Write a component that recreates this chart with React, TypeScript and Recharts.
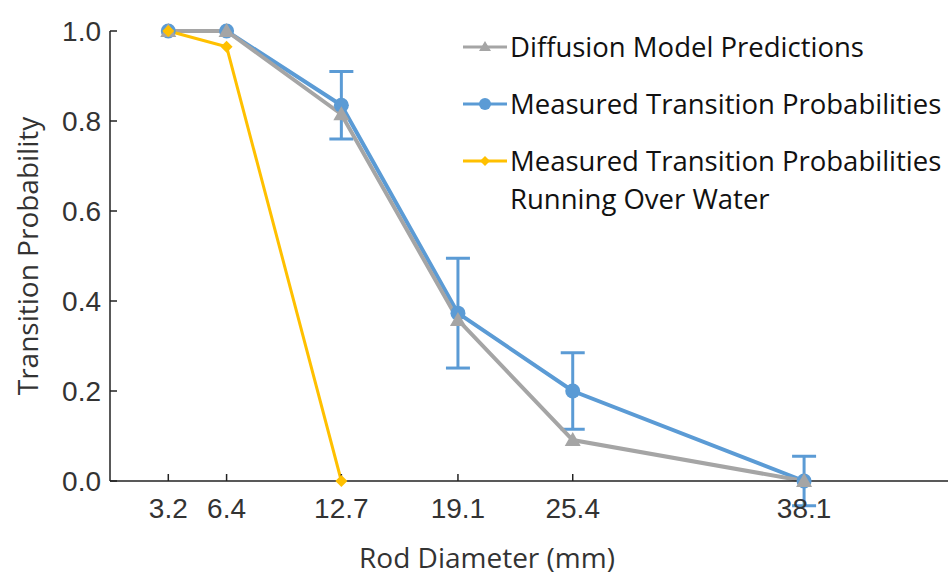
import React from 'react';
import { LineChart, Line, XAxis, YAxis, ErrorBar, Legend, Label } from 'recharts';

const diameters = [3.2, 6.4, 12.7, 19.1, 25.4, 38.1];
const diffusion = [1.0, 1.0, 0.815, 0.358, 0.091, 0.0];
const measured = [1.0, 1.0, 0.835, 0.373, 0.2, 0.0];
const measuredErr = [0, 0, 0.075, 0.122, 0.085, 0.055];
const overWater = [1.0, 0.965, 0.0];
const yTicks = [0, 0.2, 0.4, 0.6, 0.8, 1.0];

const GRAY = '#A5A5A5';
const BLUE = '#5B9BD5';
const GOLD = '#FFC000';

const data = diameters.map((d, i) => ({
  d,
  diffusion: diffusion[i],
  measured: measured[i],
  err: measuredErr[i],
  water: i < overWater.length ? overWater[i] : undefined,
}));

const Triangle = (p: any) => {
  const { cx, cy } = p;
  if (cx == null || cy == null) return null;
  return <path key={p.key} d={`M${cx},${cy - 8} L${cx + 8},${cy + 6} L${cx - 8},${cy + 6} Z`} fill={GRAY} />;
};
const Circle = (p: any) => {
  const { cx, cy } = p;
  if (cx == null || cy == null) return null;
  return <circle key={p.key} cx={cx} cy={cy} r={7.5} fill={BLUE} />;
};
const Diamond = (p: any) => {
  const { cx, cy } = p;
  if (cx == null || cy == null) return null;
  return <path key={p.key} d={`M${cx},${cy - 6} L${cx + 6},${cy} L${cx},${cy + 6} L${cx - 6},${cy} Z`} fill={GOLD} />;
};

const legendItems = [
  { color: GRAY, shape: 'tri', lines: ['Diffusion Model Predictions'] },
  { color: BLUE, shape: 'circ', lines: ['Measured Transition Probabilities'] },
  { color: GOLD, shape: 'dia', lines: ['Measured Transition Probabilities', 'Running Over Water'] },
];

const LegendBox = () => (
  <div style={{ fontFamily: '"Open Sans", sans-serif', fontSize: 27.5, color: '#111', textAlign: 'left' }}>
    {legendItems.map((it) => (
      <div key={it.color} style={{ display: 'flex', alignItems: 'flex-start', marginBottom: 19 }}>
        <svg width={46} height={38} style={{ flex: 'none' }}>
          <line x1={2} x2={46} y1={19} y2={19} stroke={it.color} strokeWidth={3} />
          {it.shape === 'tri' && <path d="M24,13 L30,23 L18,23 Z" fill={it.color} />}
          {it.shape === 'circ' && <circle cx={24} cy={19} r={6} fill={it.color} />}
          {it.shape === 'dia' && <path d="M24,14 L29,19 L24,24 L19,19 Z" fill={it.color} />}
        </svg>
        <div style={{ lineHeight: '38px', paddingLeft: 3, whiteSpace: 'nowrap' }}>
          {it.lines.map((l) => (
            <div key={l}>{l}</div>
          ))}
        </div>
      </div>
    ))}
  </div>
);

const tickStyle = { fontFamily: '"Liberation Sans", Arial, sans-serif', fontSize: 28, fill: '#333' };
const titleStyle = { fontFamily: '"Open Sans", sans-serif', fontSize: 28, fill: '#333' };

export default function App() {
  return (
    <div style={{ width: 951, height: 576, background: '#fff' }}>
      {/* markers, lines and error bars sit on the axis edges, so don't clip them */}
      <style>{'body{margin:0} .recharts-wrapper [clip-path]{clip-path:none !important}'}</style>
      <LineChart width={951} height={576} data={data} margin={{ top: 31, right: 3, bottom: 0, left: 0 }}>
        <XAxis
          dataKey="d"
          type="number"
          domain={[0, 46]}
          ticks={diameters}
          tickFormatter={(v) => v.toFixed(1)}
          tick={tickStyle}
          tickSize={-7}
          tickMargin={24}
          stroke="#222"
          strokeWidth={1.5}
          height={95}
          interval={0}
        >
          <Label value="Rod Diameter (mm)" position="insideBottom" offset={8} dx={-42} style={titleStyle} />
        </XAxis>
        <YAxis
          type="number"
          domain={[0, 1]}
          allowDataOverflow
          ticks={yTicks}
          tickFormatter={(v) => v.toFixed(1)}
          tick={tickStyle}
          tickSize={-7}
          tickMargin={16}
          stroke="#222"
          strokeWidth={1.5}
          width={110}
        >
          <Label
            value="Transition Probability"
            angle={-90}
            position="insideLeft"
            offset={28}
            style={{ ...titleStyle, textAnchor: 'middle' }}
          />
        </YAxis>
        <Legend
          verticalAlign="middle"
          align="center"
          layout="vertical"
          content={() => <LegendBox />}
          wrapperStyle={{ top: 28, left: 461, width: 490 }}
        />
        <Line
          dataKey="measured"
          stroke={BLUE}
          strokeWidth={4}
          dot={Circle}
          isAnimationActive={false}
          legendType="none"
        >
          <ErrorBar dataKey="err" width={12} stroke={BLUE} strokeWidth={3} direction="y" />
        </Line>
        <Line
          dataKey="diffusion"
          stroke={GRAY}
          strokeWidth={4}
          dot={Triangle}
          isAnimationActive={false}
        />
        <Line
          dataKey="water"
          stroke={GOLD}
          strokeWidth={3}
          dot={Diamond}
          isAnimationActive={false}
        />
      </LineChart>
    </div>
  );
}
